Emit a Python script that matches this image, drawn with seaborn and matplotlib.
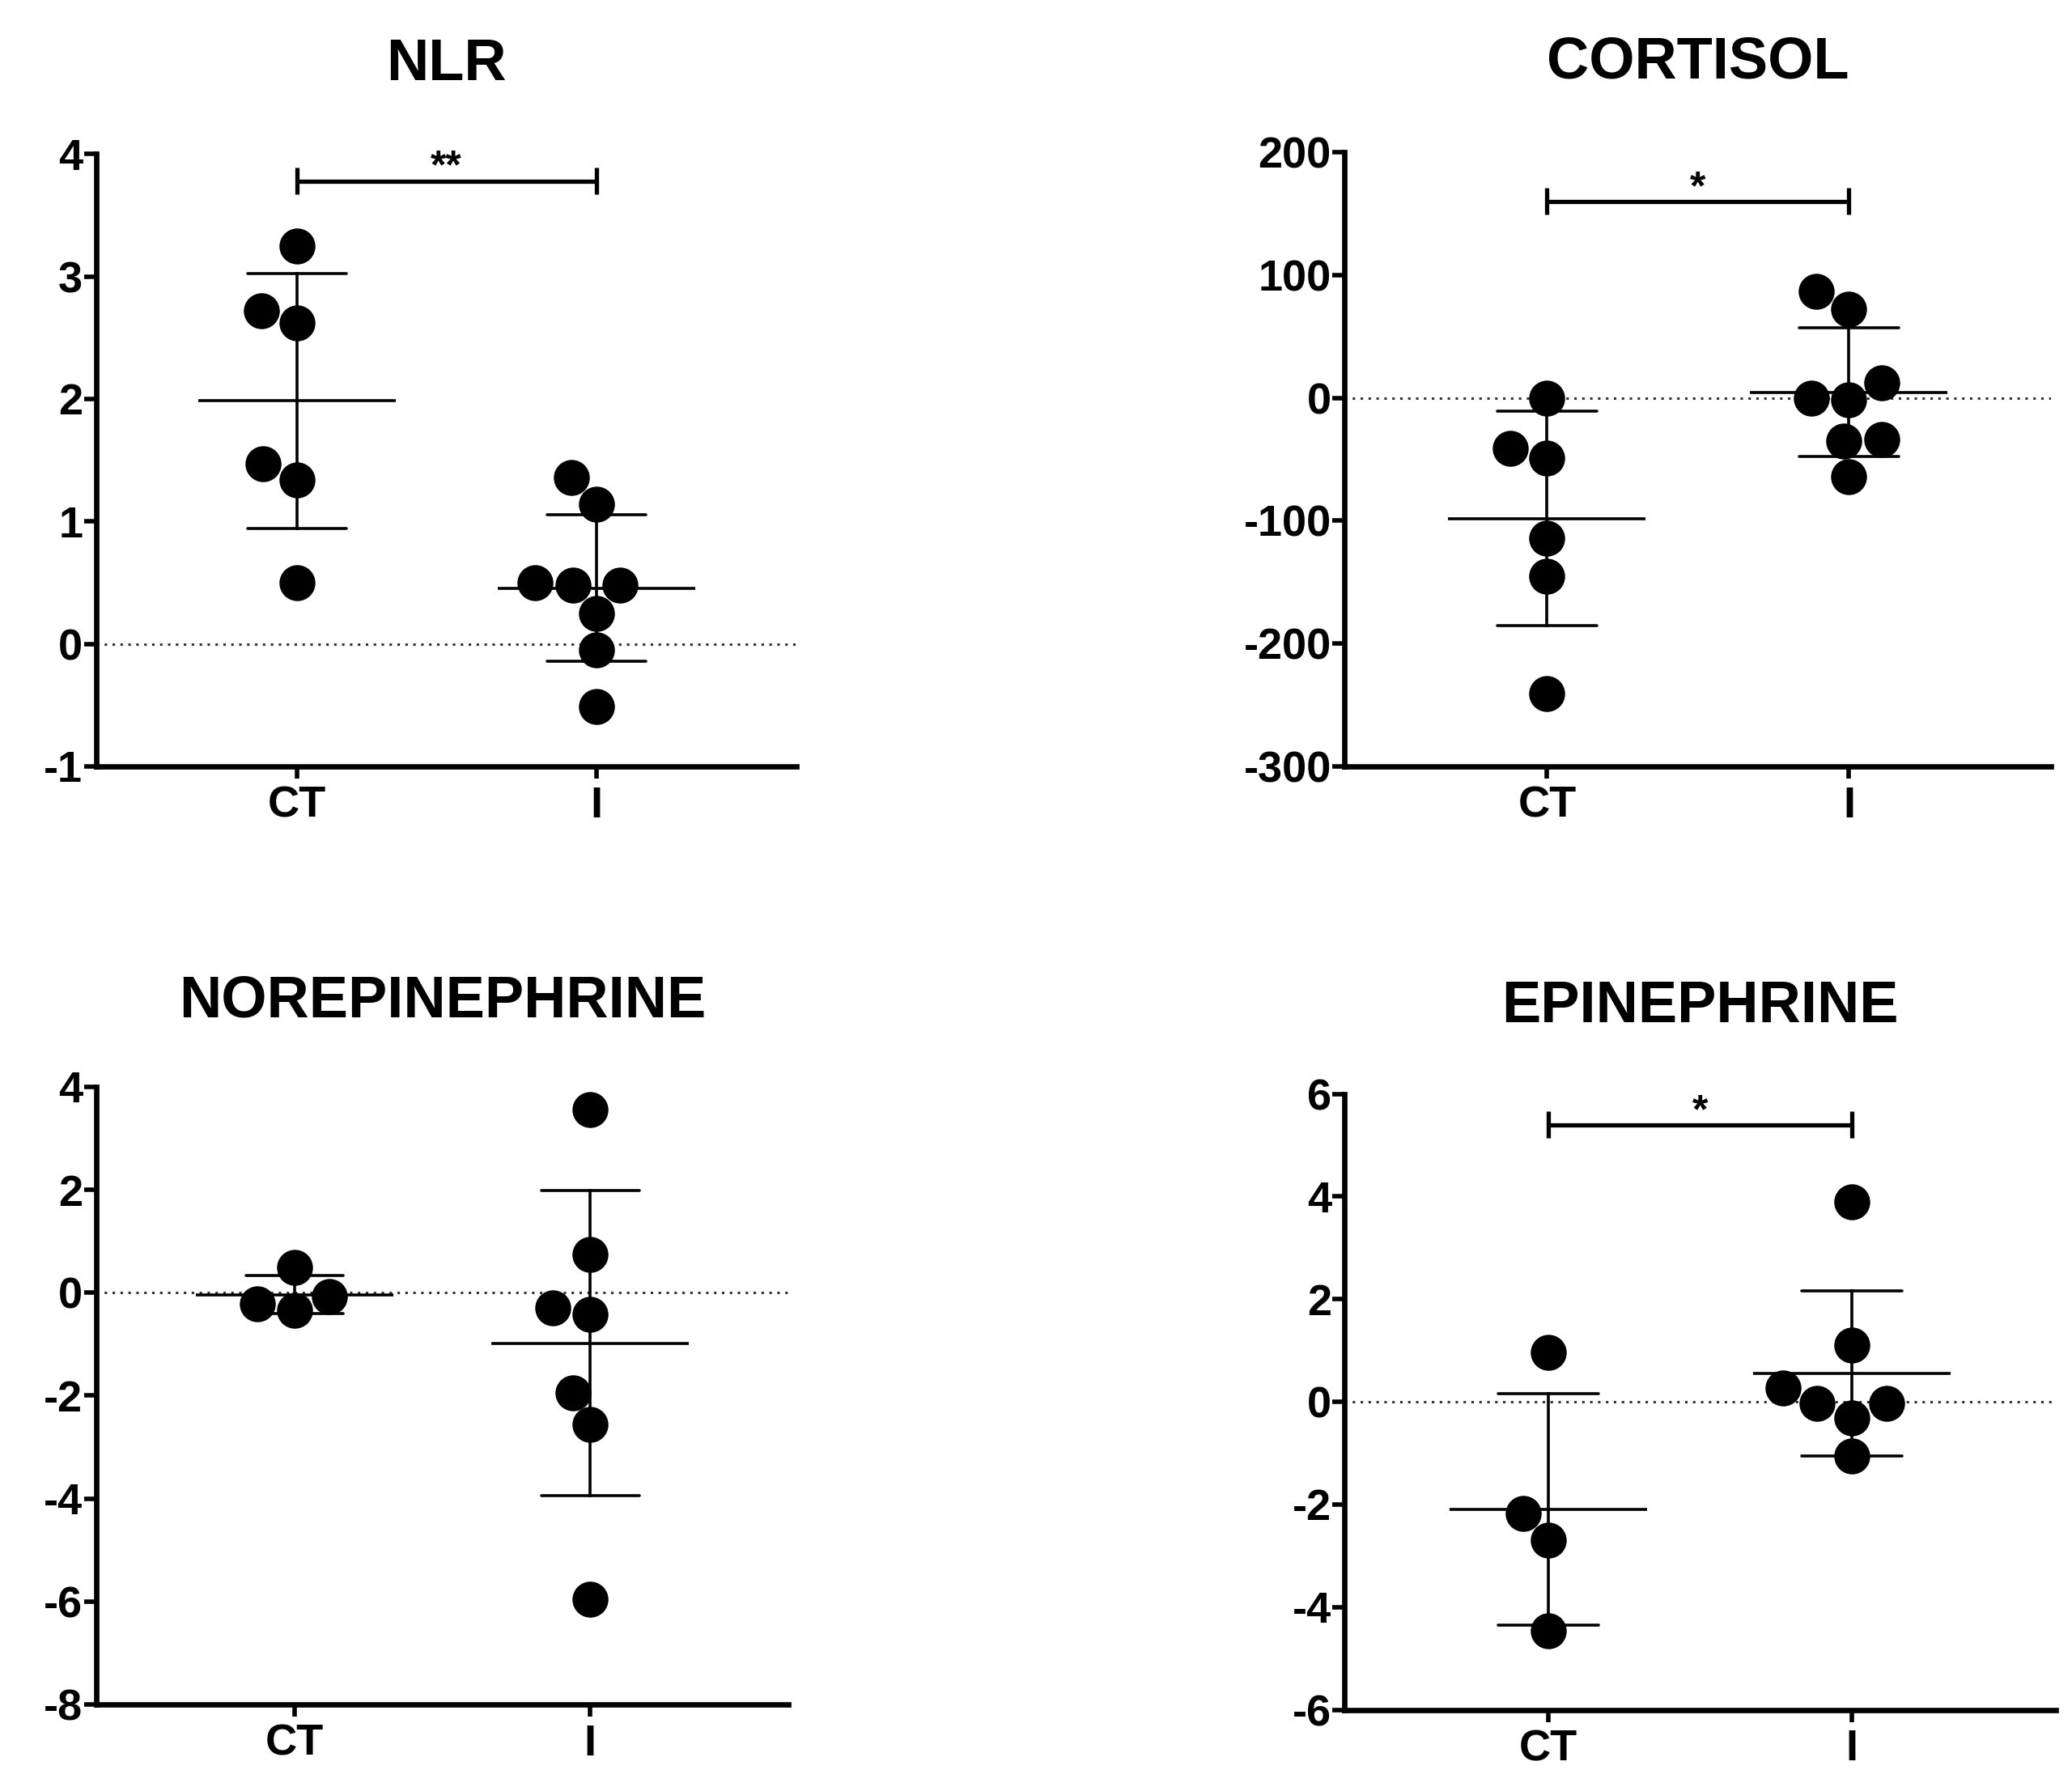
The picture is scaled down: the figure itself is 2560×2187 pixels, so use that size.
import matplotlib
matplotlib.use("Agg")
import matplotlib.pyplot as plt
import numpy as np
import pandas as pd
import seaborn as sns

# values
groups = ["CT", "I"]

nlr_ct = [3.25, 2.72, 2.62, 1.47, 1.34, 0.50]
nlr_i = [1.36, 1.14, 0.48, 0.48, 0.50, 0.25, -0.05, -0.51]

cortisol_ct = [0, -41, -49, -114, -145, -241]
cortisol_i = [87, 72, 0, -1.5, 12.5, -34, -35, -64]

norepi_ct = [0.49, -0.08, -0.22, -0.34]
norepi_i = [3.56, 0.75, -0.29, -0.42, -1.94, -2.56, -5.96]

epi_ct = [0.96, -2.18, -2.70, -4.46]
epi_i = [3.89, 1.10, 0.27, -0.31, -0.03, -0.03, -1.06]

titles = ["NLR", "CORTISOL", "NOREPINEPHRINE", "EPINEPHRINE"]
y_ranges = [(-1, 4, 1), (-300, 200, 100), (-8, 4, 2), (-6, 6, 2)]
sig_marks = ["**", "*", None, "*"]
sig_heights = [3.78, 160, None, 5.4]

panel_data = [(nlr_ct, nlr_i), (cortisol_ct, cortisol_i),
              (norepi_ct, norepi_i), (epi_ct, epi_i)]

# axes boxes in figure fractions [left, bottom, width, height]
boxes = [[0.0465, 0.567, 0.338, 0.346],
         [0.649, 0.567, 0.341, 0.347],
         [0.0465, 0.037, 0.334, 0.349],
         [0.649, 0.034, 0.343, 0.348]]
title_pads = [66, 66, 62, 64]

sns.set_style("ticks")
plt.rcParams["font.family"] = ["Liberation Sans", "DejaVu Sans"]
plt.rcParams["font.weight"] = "bold"
plt.rcParams["axes.unicode_minus"] = False
plt.rcParams["text.color"] = "black"
plt.rcParams["xtick.color"] = "black"
plt.rcParams["ytick.color"] = "black"
plt.rcParams["axes.labelcolor"] = "black"


def draw_panel(ax, ct, i, title, yr, sig, sig_y, pad):
    df = pd.DataFrame({"group": ["CT"] * len(ct) + ["I"] * len(i),
                       "value": ct + i})
    lo, hi, step = yr

    ax.axhline(0, color="#333333", lw=2.2, ls=(0, (1, 2.2)), zorder=0)
    sns.swarmplot(data=df, x="group", y="value", order=groups, color="black",
                  size=32, ax=ax, zorder=3)
    sns.pointplot(data=df, x="group", y="value", order=groups, errorbar="sd",
                  capsize=0.33, color="black", marker="_", markersize=176,
                  markeredgewidth=2.6, linestyle="none",
                  err_kws={"linewidth": 2.6}, ax=ax, zorder=4)

    if sig is not None:
        h = 0.022 * (hi - lo)
        ax.plot([0, 1], [sig_y, sig_y], color="black", lw=3.8)
        ax.vlines([0, 1], sig_y - h, sig_y + h, color="black", lw=3.8)
        ax.annotate(sig, (0.5, sig_y), xytext=(0, 2), textcoords="offset points",
                    ha="center", va="baseline", fontsize=36, fontweight="bold")

    ax.set_xlim(-0.67, 1.67)
    ax.set_ylim(lo, hi)
    ax.set_yticks(np.arange(lo, hi + step, step))
    ax.set_xlabel("")
    ax.set_ylabel("")
    ax.set_title(title, fontsize=52, fontweight="bold", pad=pad, color="black")
    sns.despine(ax=ax)
    for s in ["left", "bottom"]:
        ax.spines[s].set_linewidth(4.8)
        ax.spines[s].set_color("black")
    ax.tick_params(axis="both", width=4, length=11, color="black",
                   labelsize=39, pad=1)
    ax.tick_params(axis="x", pad=6)
    for lab in ax.get_xticklabels() + ax.get_yticklabels():
        lab.set_fontweight("bold")


fig = plt.figure(figsize=(25.6, 21.87), dpi=100)
for k in range(4):
    ax = fig.add_axes(boxes[k])
    ct, i = panel_data[k]
    draw_panel(ax, ct, i, titles[k], y_ranges[k], sig_marks[k], sig_heights[k],
               title_pads[k])

fig.savefig("out.png", dpi=100)
plt.close(fig)
